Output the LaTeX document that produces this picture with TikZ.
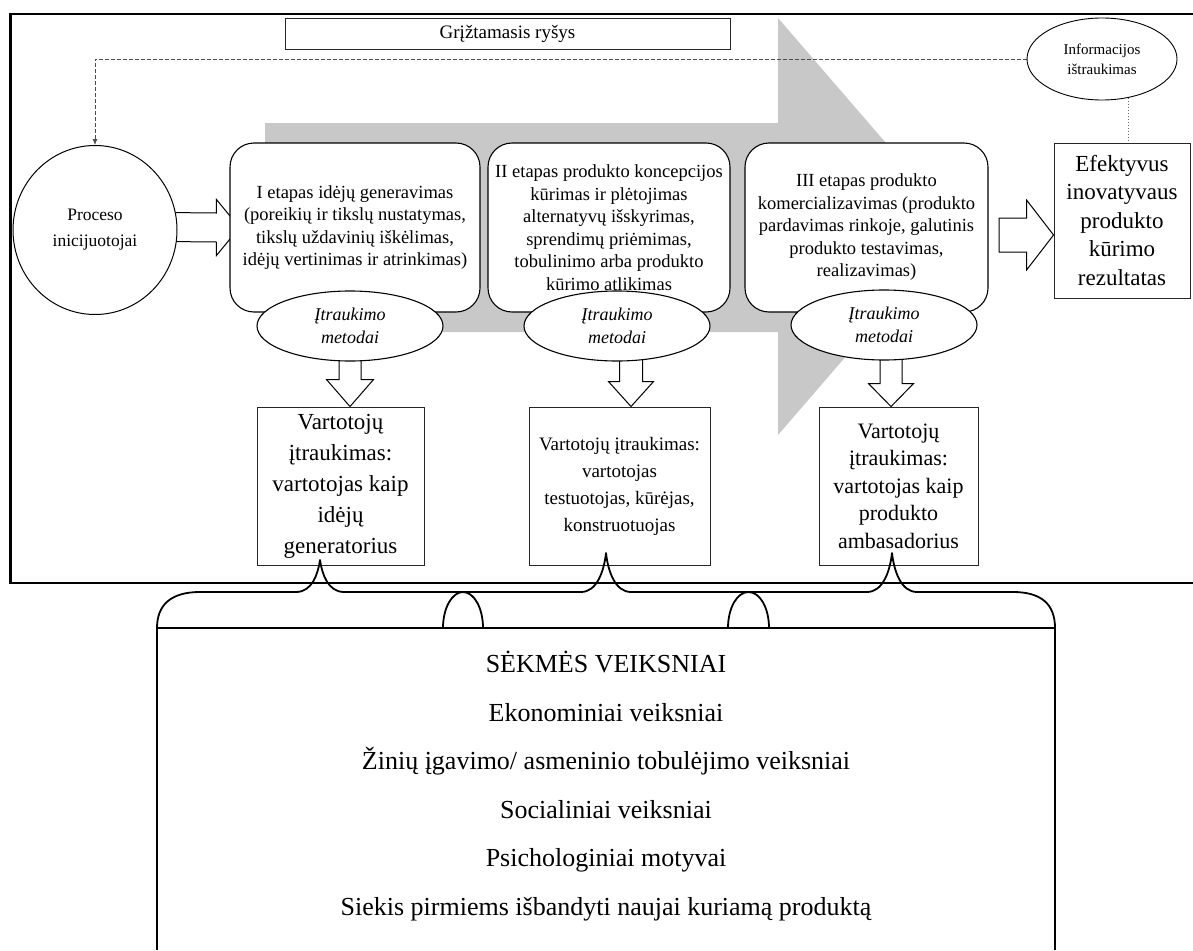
\documentclass[tikz,border=0pt]{standalone}
\usepackage{fontspec}
\setmainfont{Liberation Serif}
\usetikzlibrary{calc,shapes.geometric,arrows.meta,backgrounds}

\definecolor{bandgrey}{RGB}{200,200,200}

\tikzset{
  stagebox/.style={draw=black, line width=1.1pt, rounded corners=24pt, fill=white,
    align=center, inner sep=0pt, font=\fontsize{18.5}{22.5}\selectfont},
  plainbox/.style={draw=black!85, line width=0.9pt, fill=white, align=center, inner sep=0pt},
  methodell/.style={ellipse, draw=black, line width=1.1pt, fill=white, inner sep=0pt,
    minimum width=186pt, minimum height=70pt, align=center,
    font=\fontsize{18}{23.5}\selectfont\itshape},
  roundnode/.style={ellipse, draw=black, line width=1pt, fill=white, inner sep=0pt, align=center},
  blockarr/.style={draw=black, line width=1pt, fill=white, line join=miter},
  feedback/.style={draw=black!70, line width=0.8pt, dash pattern=on 4pt off 2pt},
  infolink/.style={draw=black!60, line width=0.7pt, dash pattern=on 1.5pt off 1.5pt},
  framerule/.style={draw=black, line width=2.6pt},
  braceline/.style={draw=black, line width=1.8pt, line join=round},
}

% block arrow pointing right: start, tip, body half-height, head half-height, head length
\newcommand{\blockright}[5]{%
  \draw[blockarr] ($(#1)+(0,-#3)$) -- ($(#2)+(-#5,-#3)$) -- ($(#2)+(-#5,-#4)$) -- (#2)
    -- ($(#2)+(-#5,#4)$) -- ($(#2)+(-#5,#3)$) -- ($(#1)+(0,#3)$) -- cycle;}
% block arrow pointing down: start, tip, body half-width, head half-width, head length
\newcommand{\blockdown}[5]{%
  \draw[blockarr] ($(#1)+(-#3,0)$) -- ($(#2)+(-#3,-#5)$) -- ($(#2)+(-#4,-#5)$) -- (#2)
    -- ($(#2)+(#4,-#5)$) -- ($(#2)+(#3,-#5)$) -- ($(#1)+(#3,0)$) -- cycle;}

\begin{document}
\begin{tikzpicture}[x=1pt,y=-1pt]
\useasboundingbox (0,0) rectangle (1193,950);

% ---------- nodes ----------
\node[plainbox, minimum width=445pt, minimum height=31pt, font=\fontsize{19}{22}\selectfont]
  (fb) at (507.5,33.5) {Grįžtamasis ryšys};
\node[roundnode, line width=0.9pt, minimum width=150pt, minimum height=82pt,
  font=\fontsize{15}{20}\selectfont] (info) at (1102,59) {Informacijos\\ištraukimas};
\node[roundnode, minimum width=164pt, minimum height=169pt, font=\fontsize{17.5}{26}\selectfont]
  (circ) at (95,230) {Proceso\\inicijuotojai};

\node[stagebox, minimum width=250pt, minimum height=169pt] (s1) at (355,227.5)
  {I etapas idėjų generavimas\\(poreikių ir tikslų nustatymas,\\tikslų uždavinių iškėlimas,\\idėjų vertinimas ir atrinkimas)};
\node[stagebox, minimum width=242pt, minimum height=169pt] (s2) at (609,227.5)
  {II etapas produkto koncepcijos\\kūrimas ir plėtojimas\\alternatyvų išskyrimas,\\sprendimų priėmimas,\\tobulinimo arba produkto\\kūrimo atlikimas};
\node[stagebox, minimum width=243pt, minimum height=169pt] (s3) at (866.5,227.5)
  {III etapas produkto\\komercializavimas (produkto\\pardavimas rinkoje, galutinis\\produkto testavimas,\\realizavimas)};

\node[plainbox, minimum width=136pt, minimum height=155pt, font=\fontsize{23}{28.5}\selectfont]
  (eff) at (1122,220.5) {Efektyvus\\inovatyvaus\\produkto\\kūrimo\\rezultatas};

\node[methodell] (m1) at (350,326) {Įtraukimo\\metodai};
\node[methodell] (m2) at (617,326) {Įtraukimo\\metodai};
\node[methodell] (m3) at (884,325) {Įtraukimo\\metodai};

\node[plainbox, minimum width=167pt, minimum height=158pt, font=\fontsize{23}{31}\selectfont]
  (ua) at (340.5,486) {Vartotojų\\įtraukimas:\\vartotojas kaip\\idėjų\\generatorius};
\node[plainbox, minimum width=181pt, minimum height=158pt, font=\fontsize{19}{27}\selectfont]
  (ub) at (619.5,486) {Vartotojų įtraukimas:\\vartotojas\\testuotojas, kūrėjas,\\konstruotuojas};
\node[plainbox, minimum width=159pt, minimum height=158pt, font=\fontsize{22}{27.5}\selectfont]
  (uc) at (898.5,486) {Vartotojų\\įtraukimas:\\vartotojas kaip\\produkto\\ambasadorius};

\node[align=center, inner sep=0pt, font=\fontsize{26}{48.6}\selectfont] (factors) at (606,786)
  {SĖKMĖS VEIKSNIAI\\Ekonominiai veiksniai\\Žinių įgavimo/ asmeninio tobulėjimo veiksniai\\Socialiniai veiksniai\\Psichologiniai motyvai\\Siekis pirmiems išbandyti naujai kuriamą produktą};

% ---------- layer beneath the nodes ----------
\begin{pgfonlayer}{background}
  % wide grey process arrow
  \fill[bandgrey] (265,123) -- (778,123) -- (778,18) -- (958,226.5) -- (778,435)
    -- (778,332) -- (265,332) -- cycle;
  % feedback loop
  \draw[feedback, -{Latex[length=6pt,width=5pt]}] (info.west) -- (info.west -| circ.north) -- (circ.north);
  \draw[infolink] (info.-56) -- (info.-56 |- eff.north);
  % block arrows
  \coordinate (r1s) at ($(circ.center)+(70,-3)$);
  \coordinate (r1t) at ($(s1.west)+(10,0)$);
  \blockright{r1s}{r1t}{14.5}{28}{23}
  \coordinate (r2s) at (999,235);
  \coordinate (r2t) at (eff.west |- r2s);
  \blockright{r2s}{r2t}{17}{35}{27}
  \coordinate (d1s) at (m1.center);
  \coordinate (d1t) at (ua.north -| m1.center);
  \blockdown{d1s}{d1t}{11}{23.5}{27}
  \coordinate (d2s) at ($(m2.center)+(14,0)$);
  \coordinate (d2t) at (ub.north -| d2s);
  \blockdown{d2s}{d2t}{11.5}{22.5}{25}
  \coordinate (d3s) at ($(m3.center)+(7,0)$);
  \coordinate (d3t) at (uc.north -| d3s);
  \blockdown{d3s}{d3t}{11}{22.5}{23}
\end{pgfonlayer}

% ---------- outer frame ----------
\draw[framerule] (1193,14) -- (10.5,14) -- (10.5,583) -- (1193,583);

% ---------- success factors box and braces ----------
\draw[line width=1.3pt] (157,950) -- (157,628) -- (1055,628) -- (1055,950);

\coordinate (tipA) at (320,560);
\coordinate (tipB) at (606,553);
\coordinate (tipC) at (892,553);
\coordinate (arch1) at (463,592);
\coordinate (arch2) at (748.5,592);

\draw[braceline] (157,628) .. controls (157,604) and (172,592) .. (200,592)
  -- ($(tipA)+(-24,32)$) .. controls ($(tipA)+(-8,32)$) and ($(tipA)+(-2,14)$) .. (tipA)
  .. controls ($(tipA)+(2,14)$) and ($(tipA)+(8,32)$) .. ($(tipA)+(24,32)$) -- (arch1);
\draw[braceline] (arch1) -- ($(tipB)+(-25,39)$)
  .. controls ($(tipB)+(-9,39)$) and ($(tipB)+(-2,18)$) .. (tipB)
  .. controls ($(tipB)+(2,18)$) and ($(tipB)+(9,39)$) .. ($(tipB)+(25,39)$) -- (arch2);
\draw[braceline] (arch2) -- ($(tipC)+(-25,39)$)
  .. controls ($(tipC)+(-9,39)$) and ($(tipC)+(-2,18)$) .. (tipC)
  .. controls ($(tipC)+(2,18)$) and ($(tipC)+(9,39)$) .. ($(tipC)+(25,39)$)
  -- (1013,592) .. controls (1041,592) and (1055,604) .. (1055,628);
% arches joining neighbouring braces
\draw[braceline] (443,628) .. controls (443,608) and (452,592) .. (arch1)
  .. controls (474,592) and (483,608) .. (483,628);
\draw[braceline] (728,628) .. controls (728,608) and (737,592) .. (arch2)
  .. controls (760,592) and (769,608) .. (769,628);
\end{tikzpicture}
\end{document}
